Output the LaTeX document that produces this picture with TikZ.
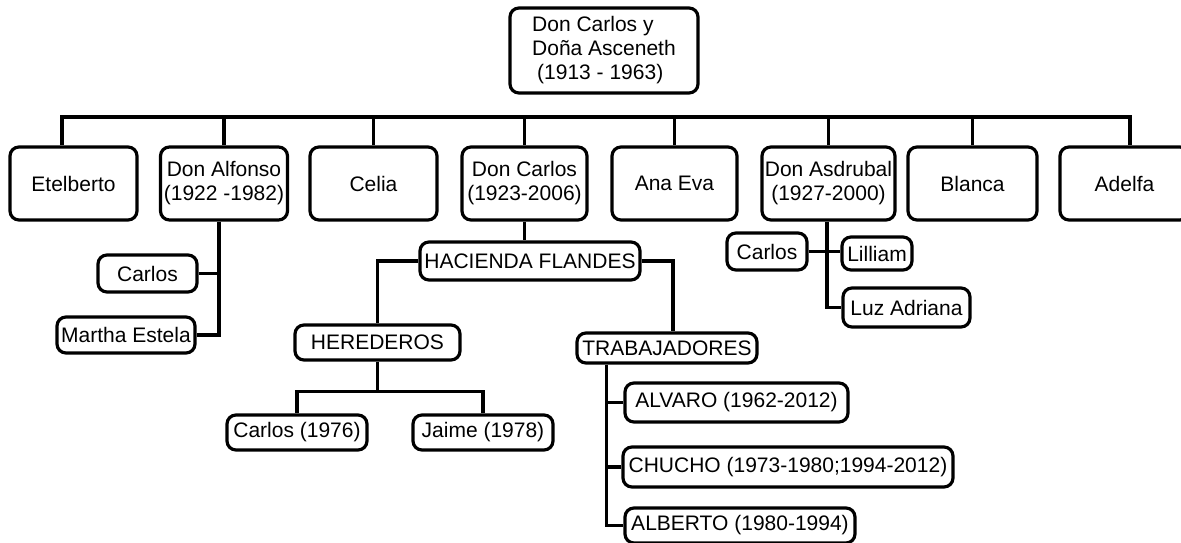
\documentclass[tikz,border=0pt]{standalone}
\usepackage{fontspec}
\setmainfont{Liberation Sans}
\usetikzlibrary{positioning}
\definecolor{ftline}{RGB}{0,0,0}
\tikzset{
    box/.style={draw=ftline, line width=3.2pt, rounded corners=9pt, fill=white,
                align=center, inner sep=0pt, font=\fontsize{21}{24}\selectfont},
    member/.style={box, minimum width=127pt, minimum height=73pt},
    leaf/.style={box, minimum height=36pt},
    link/.style={draw=ftline, line width=3.2pt},
}

\begin{document}
\begin{tikzpicture}[x=1pt, y=-1pt]
    \useasboundingbox (0,0) rectangle (1181,543);
    \clip (0,0) rectangle (1181,543);
    % parents
    \node[box, minimum width=188pt, minimum height=85pt, align=left] (top) at (604,50.5)
        {Don Carlos y\\Doña Asceneth\\\hspace{5pt}(1913 - 1963)};
    % children
    \node[member] (ete) at (73.5,183.5) {Etelberto};
    \node[member] (alfonso) at (224,183.5) {Don Alfonso\\(1922 -1982)};
    \node[member] (celia) at (373.5,183.5) {Celia};
    \node[member, minimum width=125pt] (carlos) at (524.5,183.5) {Don Carlos\\(1923-2006)};
    \node[member, minimum width=125pt] (anaeva) at (674.5,183.5) {Ana Eva};
    \node[member, minimum width=133pt] (asdrubal) at (828.5,183.5) {Don Asdrubal\\(1927-2000)};
    \node[member, minimum width=129pt] (blanca) at (972.5,183.5) {Blanca};
    \node[member, minimum width=129pt] (adelfa) at (1124.5,183.5) {Adelfa};
    \coordinate (bus) at (0,117);
    \draw[link] ([xshift=-11.5pt]ete.north) |- ([xshift=5.5pt]adelfa.north |- bus)
        -- ([xshift=5.5pt]adelfa.north);
    \foreach \n in {alfonso, celia, carlos, anaeva, asdrubal, blanca}
        \draw[link] (\n.north) -- (\n.north |- bus);
    % Don Alfonso
    \node[leaf, minimum width=99pt, minimum height=37pt] (acarlos) at (147.5,273.5) {Carlos};
    \node[leaf, minimum width=138pt] (martha) at (126,335) {Martha Estela};
    \coordinate (aspine) at ([xshift=-5pt]alfonso.south);
    \draw[link] (aspine) |- (martha.east);
    \draw[link] (acarlos.east) -- (acarlos.east -| aspine);
    % Don Carlos
    \node[leaf, minimum width=220pt, minimum height=38pt] (hacienda) at (530,261) {HACIENDA FLANDES};
    \node[leaf, minimum width=165pt, minimum height=35pt] (heirs) at (377.5,342.5) {HEREDEROS};
    \node[leaf, minimum width=180pt, minimum height=30pt] (workers) at (667,348) {TRABAJADORES};
    \node[leaf, minimum width=140pt, minimum height=35pt] (hcarlos) at (297,432.5) {Carlos (1976)};
    \node[leaf, minimum width=140pt, minimum height=35pt] (jaime) at (483,432.5) {Jaime (1978)};
    \node[leaf, minimum width=223pt, minimum height=39pt] (alvaro) at (736.5,402.5) {ALVARO (1962-2012)};
    \node[leaf, minimum width=330pt, minimum height=40pt] (chucho) at (788,467) {CHUCHO (1973-1980;1994-2012)};
    \node[leaf, minimum width=230pt, minimum height=35pt] (alberto) at (740,525.5) {ALBERTO (1980-1994)};
    \draw[link] (carlos.south) -- (carlos.south |- hacienda.north);
    \draw[link] (hacienda.west) -| (heirs.north);
    \draw[link] (hacienda.east) -| ([xshift=6pt]workers.north);
    \coordinate (hfork) at ([yshift=-30pt]heirs.south);
    \draw[link] (heirs.south) -- (hfork);
    \draw[link] (hcarlos.north) |- (hfork) -| (jaime.north);
    \coordinate (wspine) at ([xshift=31pt]workers.south west);
    \draw[link] (wspine) |- (alberto.west);
    \draw[link] (alvaro.west) -- (alvaro.west -| wspine);
    \draw[link] (chucho.west) -- (chucho.west -| wspine);
    % Don Asdrubal
    \node[leaf, minimum width=80pt, minimum height=37pt] (dcarlos) at (767,251.5) {Carlos};
    \node[leaf, minimum width=70pt, minimum height=33pt] (lilliam) at (877,253.5) {Lilliam};
    \node[leaf, minimum width=127pt, minimum height=39pt] (luz) at (906.5,307.5) {Luz Adriana};
    \coordinate (dspine) at ([xshift=-1.5pt]asdrubal.south);
    \draw[link] (dspine) |- (luz.west);
    \draw[link] (dcarlos.east) -- (dcarlos.east -| lilliam.west);
\end{tikzpicture}
\end{document}
